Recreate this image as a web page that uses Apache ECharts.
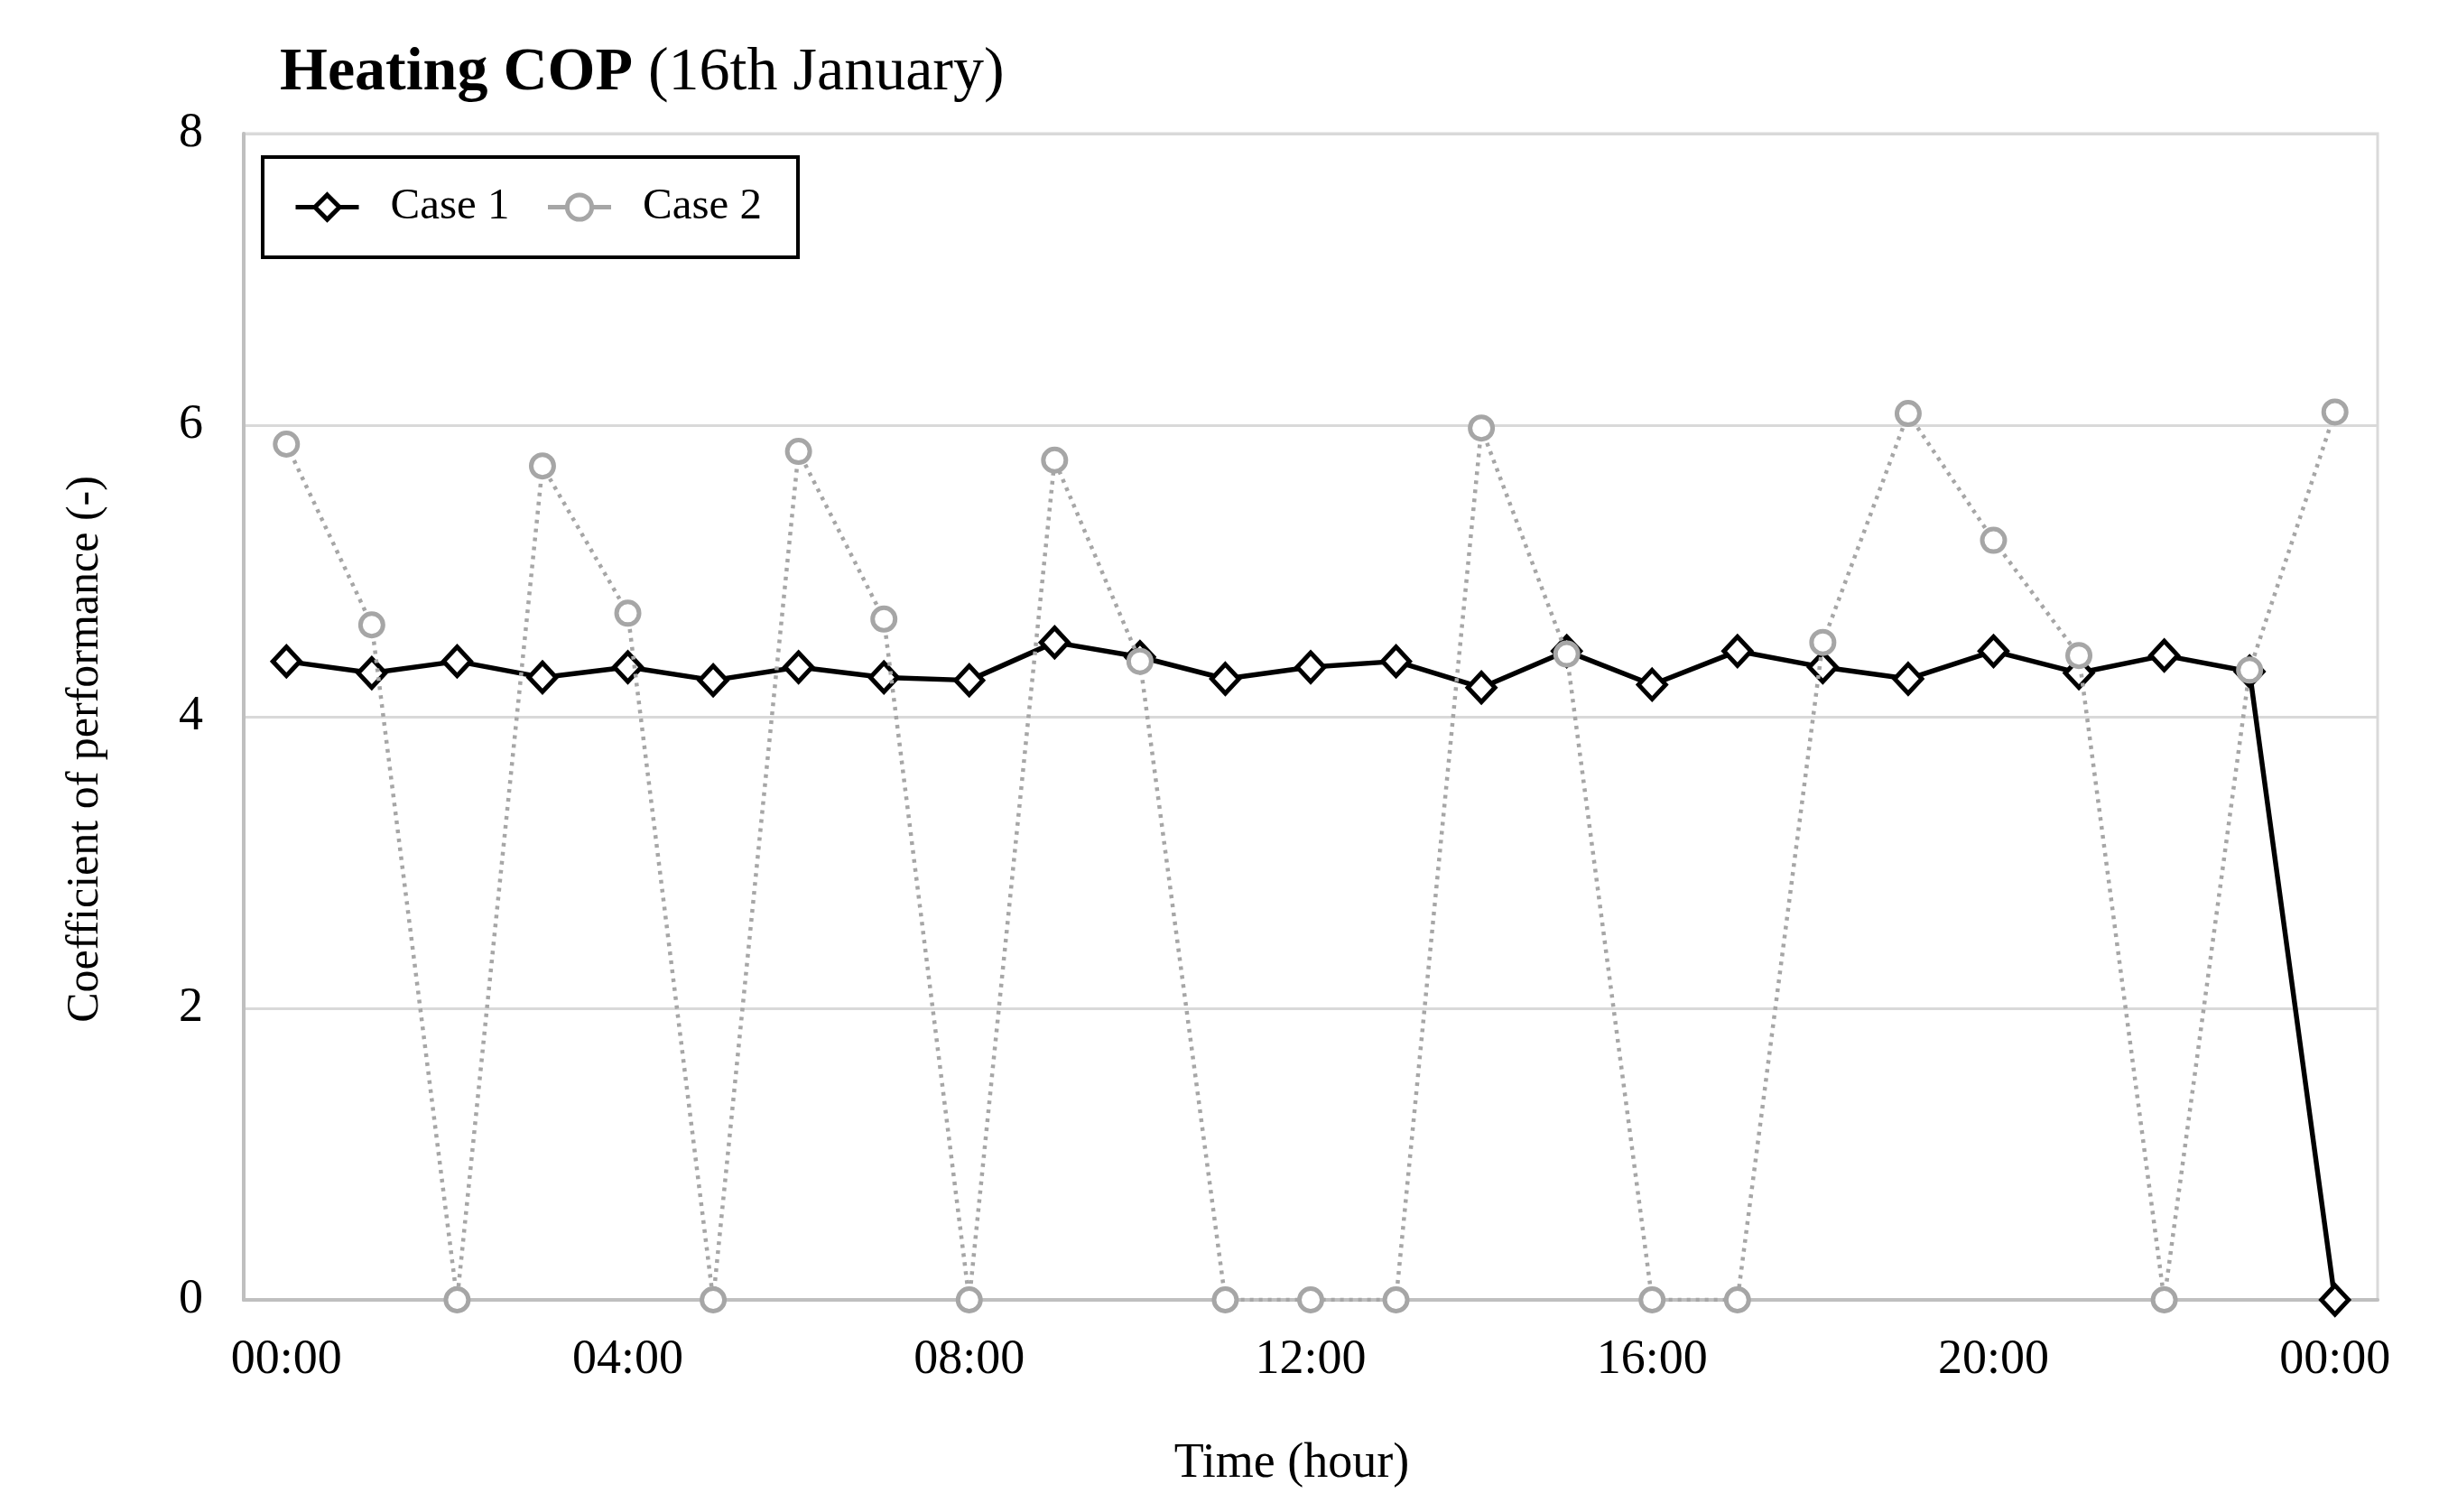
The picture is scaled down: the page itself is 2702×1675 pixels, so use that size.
<!DOCTYPE html>
<html>
<head>
<meta charset="utf-8">
<script src="https://cdn.jsdelivr.net/npm/echarts@6/dist/echarts.min.js"></script>
<style>html,body{margin:0;padding:0;background:#fff;}#c{width:2702px;height:1675px;}</style>
</head>
<body>
<div id="c"></div>
<script>
const hours = ['00:00','01:00','02:00','03:00','04:00','05:00','06:00','07:00','08:00','09:00','10:00','11:00','12:00','13:00','14:00','15:00','16:00','17:00','18:00','19:00','20:00','21:00','22:00','23:00','00:00'];
const case1 = [4.38,4.30,4.38,4.27,4.34,4.25,4.34,4.27,4.25,4.51,4.41,4.26,4.34,4.38,4.20,4.45,4.22,4.45,4.34,4.26,4.45,4.30,4.42,4.31,0];
const case2 = [5.87,4.63,0,5.72,4.71,0,5.82,4.67,0,5.76,4.38,0,0,0,5.98,4.43,0,0,4.51,6.08,5.21,4.42,0,4.32,6.09];
const yTicks = [0,2,4,6,8];

const FONT = "'Liberation Serif','Times New Roman',serif";
const chart = echarts.init(document.getElementById('c'));
chart.setOption({
  backgroundColor: '#ffffff',
  animation: false,
  title: {
    left: 305, top: 42,
    text: '{b|Heating COP}{n| (16th January)}',
    textStyle: {
      rich: {
        b: {fontFamily: FONT, fontSize: 68, fontWeight: 'bold', color: '#000'},
        n: {fontFamily: FONT, fontSize: 68, fontWeight: 'normal', color: '#000'}
      }
    }
  },
  legend: {
    left: 291, top: 174,
    orient: 'horizontal',
    borderColor: '#000', borderWidth: 4,
    padding: [31, 40, 31, 34],
    itemWidth: 70, itemHeight: 34, itemGap: 40,
    textStyle: {fontFamily: FONT, fontSize: 49, color: '#000', padding: [0, 0, 0, 30]},
    lineStyle: {width: 5},
    itemStyle: {borderWidth: 5},
    data: [
      {name: 'Case 1'},
      {name: 'Case 2', lineStyle: {type: 'solid', width: 5}}
    ]
  },
  grid: {
    left: 270, right: 68, top: 148, bottom: 235,
    show: true, borderColor: '#d9d9d9', borderWidth: 3
  },
  xAxis: {
    type: 'category',
    data: hours,
    boundaryGap: true,
    name: 'Time (hour)',
    nameLocation: 'middle',
    nameGap: 155,
    nameTextStyle: {fontFamily: FONT, fontSize: 54, color: '#000', padding: [0, 42, 0, 0]},
    axisLine: {lineStyle: {color: '#bfbfbf', width: 4}},
    axisTick: {show: false},
    axisLabel: {
      interval: 3,
      margin: 40,
      fontFamily: FONT, fontSize: 54, color: '#000'
    },
    splitLine: {show: false}
  },
  yAxis: {
    type: 'value',
    min: 0, max: 8, interval: 2,
    name: 'Coefficient of performance (-)',
    nameLocation: 'middle',
    nameGap: 150,
    nameTextStyle: {fontFamily: FONT, fontSize: 50, color: '#000', padding: [0, 72, 0, 0]},
    axisLine: {show: true, lineStyle: {color: '#bfbfbf', width: 4}},
    axisTick: {show: false},
    axisLabel: {
      margin: 45,
      fontFamily: FONT, fontSize: 54, color: '#000',
      formatter: v => yTicks.includes(v) ? String(v) : ''
    },
    splitLine: {lineStyle: {color: '#d9d9d9', width: 3}}
  },
  series: [
    {
      name: 'Case 1',
      type: 'line',
      data: case1,
      symbol: 'diamond',
      symbolSize: [30, 32],
      lineStyle: {color: '#000', width: 5.5},
      itemStyle: {color: '#fff', borderColor: '#000', borderWidth: 5},
      z: 2
    },
    {
      name: 'Case 2',
      type: 'line',
      data: case2,
      symbol: 'circle',
      symbolSize: 25,
      lineStyle: {color: '#a6a6a6', width: 4.5, type: [4, 6]},
      itemStyle: {color: '#fff', borderColor: '#a6a6a6', borderWidth: 5},
      z: 3
    }
  ]
});
</script>
</body>
</html>
